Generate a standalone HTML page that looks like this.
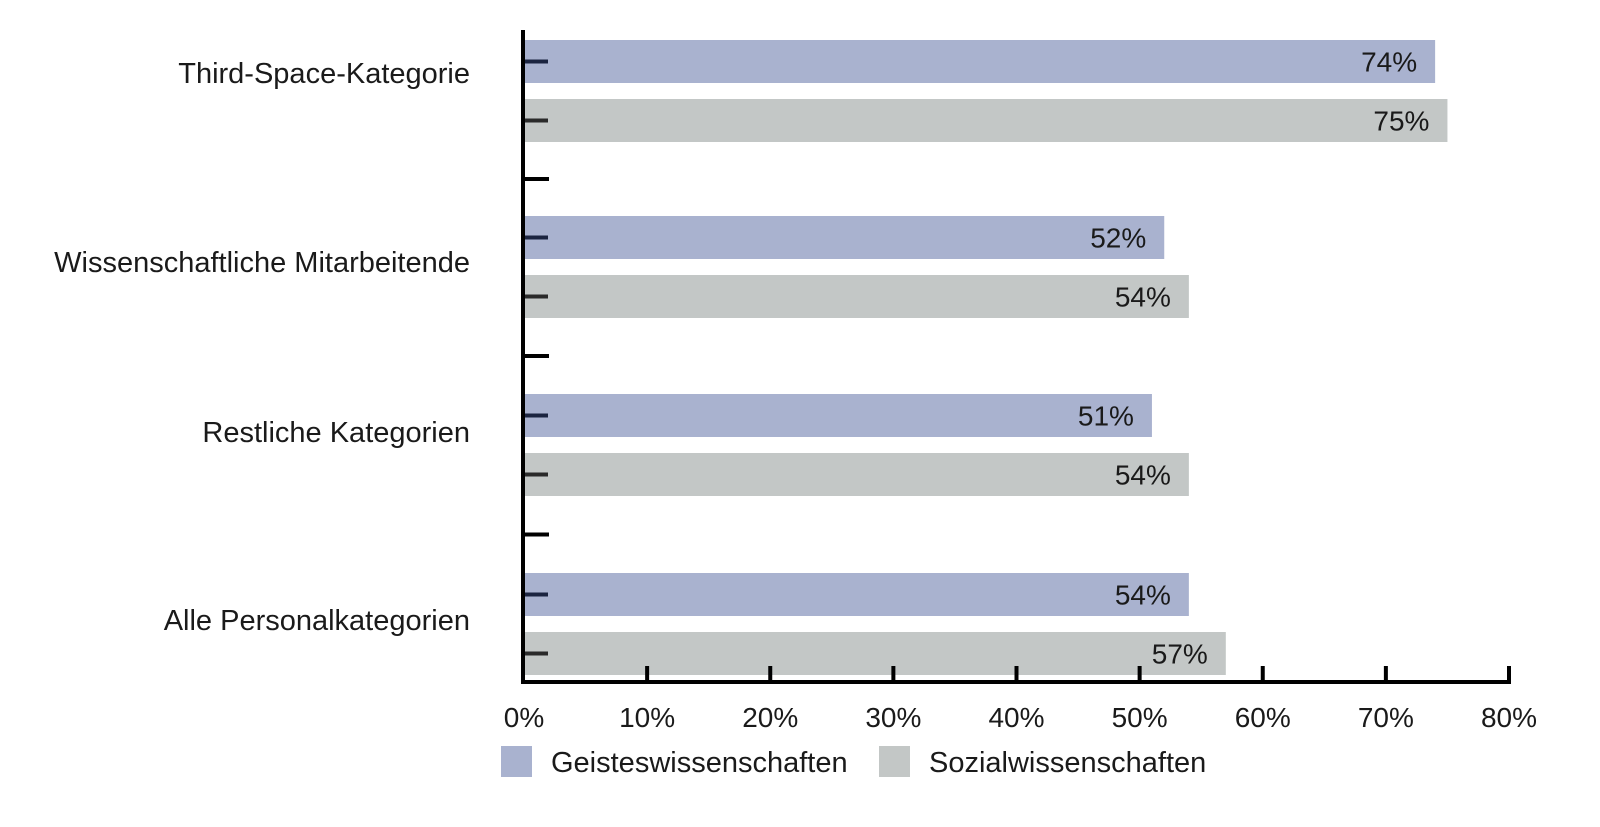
<!DOCTYPE html>
<html><head><meta charset="utf-8"><style>
html,body{margin:0;padding:0;background:#fff;}
svg{display:block;}
text{font-family:"Liberation Sans Narrow","Liberation Sans",sans-serif;fill:#1a1a1a;}
</style></head><body>
<svg id="chart" width="1600" height="827" viewBox="0 0 1600 827"></svg>
<script>
const categories=["Third-Space-Kategorie","Wissenschaftliche Mitarbeitende","Restliche Kategorien","Alle Personalkategorien"];
const geistes=[74,52,51,54];
const sozial=[75,54,54,57];
const xTicks=[0,10,20,30,40,50,60,70,80];
const seriesNames=["Geisteswissenschaften","Sozialwissenschaften"];
const colors=["#a9b2cf","#c3c7c6"];

const svg=document.getElementById('chart');
const NS="http://www.w3.org/2000/svg";
const x0=524,x1=1509,xMax=80;
const xs=v=>x0+(x1-x0)*v/xMax;
const groupTop=[40,216,394,573];
const labelY=[73,262,432,620];
const barH=43, gap=59;
function el(t,a,p){const e=document.createElementNS(NS,t);for(const k in a)e.setAttribute(k,a[k]);(p||svg).appendChild(e);return e;}

categories.forEach((c,i)=>{
  const vals=[geistes[i],sozial[i]];
  vals.forEach((v,s)=>{
    const y=groupTop[i]+s*gap;
    const r=el('rect',{x:x0,y:y,width:xs(v)-x0,height:barH,fill:colors[s]});
    
    
    const tk=el('line',{x1:x0,x2:548,y1:y+barH/2,y2:y+barH/2,stroke:s?'#2a2a2a':'#1b2440','stroke-width':4});
    
    
    const t=el('text',{x:xs(v)-18,y:y+barH/2+10,'text-anchor':'end','font-size':28});
    t.textContent=v+'%';
    
    
  });
  const lt=el('text',{x:470,y:labelY[i]+10,'text-anchor':'end','font-size':29});
  lt.textContent=c;
  
  
  if(i>0){
    const sy=(groupTop[i-1]+gap+barH+groupTop[i])/2;
    const sp=el('line',{x1:x0,x2:549,y1:sy,y2:sy,stroke:'#000','stroke-width':4});
    
    
  }
});
const ya=el('line',{x1:523,x2:523,y1:30,y2:684,stroke:'#000','stroke-width':4});


const xa=el('line',{x1:521,x2:1511,y1:682,y2:682,stroke:'#000','stroke-width':4});


xTicks.forEach(v=>{
  if(v>0){
    const tl=el('line',{x1:xs(v),x2:xs(v),y1:666,y2:682,stroke:'#000','stroke-width':4});
    
    
  }
  const t=el('text',{x:xs(v),y:727,'text-anchor':'middle','font-size':28});
  t.textContent=v+'%';
  
  
});
const legX=[501,879];
seriesNames.forEach((n,s)=>{
  const g=el('g',{});
  
  
  el('rect',{x:legX[s],y:746,width:31,height:31,fill:colors[s]},g);
  const t=el('text',{x:legX[s]+50,y:772,'font-size':29},g);
  t.textContent=n;
});
</script>
</body></html>
